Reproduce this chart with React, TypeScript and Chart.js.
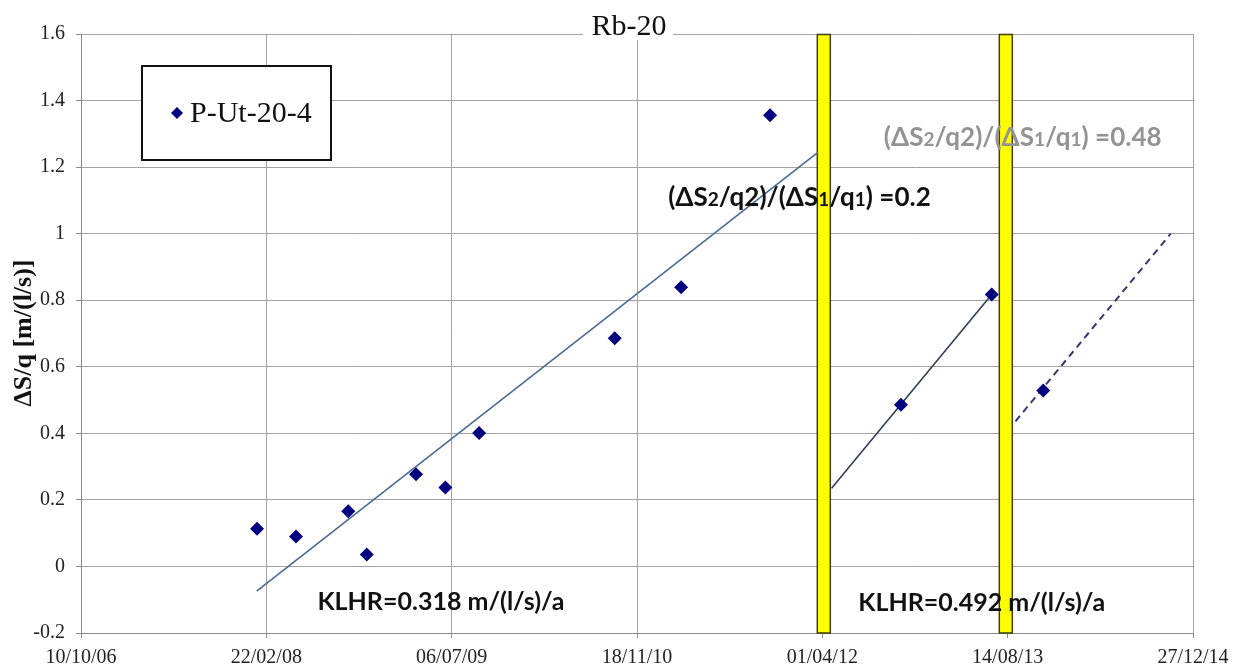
import React, { useEffect, useRef } from 'react';
import { Chart, registerables } from 'chart.js';

Chart.register(...registerables);

// Measurement dates as spreadsheet serial day numbers, and ΔS/q values [m/(l/s)]
const sampleDates = [39475, 39580, 39721, 39771, 39904, 39983, 40074, 40440, 40619, 40859, 41212, 41457, 41596];
const deltaSq = [0.113, 0.09, 0.166, 0.036, 0.277, 0.237, 0.401, 0.686, 0.839, 1.356, 0.486, 0.817, 0.529];

// Trend lines (start / end)
const trendEarlyDates = [39474, 40988];
const trendEarlyValues = [-0.074, 1.244];
const trendMidDates = [41025, 41457];
const trendMidValues = [0.235, 0.817];
const trendLateDates = [41521, 41940];
const trendLateValues = [0.436, 1.0];

// Dates of the two interventions (yellow markers)
const interventionDates = [41004, 41495];

// Axes
const xTickStart = 39000;
const xTickEnd = 42000;
const xTickStep = 500;
const yMin = -0.2;
const yMax = 1.6;
const yStep = 0.2;

const chartTitle = 'Rb-20';
const seriesName = 'P-Ut-20-4';
const yAxisTitle = 'ΔS/q [m/(l/s)]';
const klhrLabels = ['KLHR=0.318 m/(l/s)/a', 'KLHR=0.492 m/(l/s)/a'];
const klhrAnchors = [
  { x: 39971, y: -0.106 },
  { x: 41430, y: -0.111 },
];
const ratioValues = ['0.2', '0.48'];
const ratioAnchors = [
  { x: 40584, y: 1.11 },
  { x: 41166, y: 1.29 },
];
const ratioColors = ['#111111', '#939393'];

const SERIF = '"Liberation Serif", "Times New Roman", serif';
const SANS = 'Lato, "Noto Sans", "DejaVu Sans", sans-serif';
const excelEpoch = Date.UTC(1899, 11, 30);

function formatSerial(serial: number): string {
  const d = new Date(excelEpoch + serial * 86400000);
  const dd = String(d.getUTCDate()).padStart(2, '0');
  const mm = String(d.getUTCMonth() + 1).padStart(2, '0');
  const yy = String(d.getUTCFullYear() % 100).padStart(2, '0');
  return `${dd}/${mm}/${yy}`;
}

function toPoints(xs: number[], ys: number[]) {
  return xs.map((x, i) => ({ x, y: ys[i] }));
}

// Ratio text with the small index digits
function ratioSegments(value: string): [string, boolean][] {
  return [
    ['(ΔS', false],
    ['2', true],
    ['/q2)/(ΔS', false],
    ['1', true],
    ['/q', false],
    ['1', true],
    [') =', false],
    [value, false],
  ];
}

const overlayPlugin = {
  id: 'overlay',
  beforeDatasetsDraw(chart: any) {
    const { ctx, chartArea, scales } = chart;
    const xs = scales.x;
    ctx.save();
    interventionDates.forEach((d) => {
      const px = xs.getPixelForValue(d);
      const w = 13;
      ctx.fillStyle = '#ffff00';
      ctx.fillRect(px - w / 2, chartArea.top + 0.5, w, chartArea.bottom - chartArea.top - 0.5);
      ctx.strokeStyle = '#3c3c10';
      ctx.lineWidth = 1.5;
      ctx.strokeRect(px - w / 2, chartArea.top + 0.5, w, chartArea.bottom - chartArea.top - 0.5);
    });
    ctx.restore();
  },
  afterDraw(chart: any) {
    const { ctx, scales } = chart;
    const xs = scales.x;
    const ys = scales.y;
    ctx.save();

    // Title with white backing over the top border
    ctx.fillStyle = '#ffffff';
    ctx.fillRect(583, 14, 90, 26);
    ctx.fillStyle = '#111111';
    ctx.font = `30px ${SERIF}`;
    ctx.textAlign = 'center';
    ctx.textBaseline = 'middle';
    ctx.fillText(chartTitle, 629, 27);

    // Y axis title
    ctx.save();
    ctx.translate(24, 333);
    ctx.rotate(-Math.PI / 2);
    ctx.font = `bold 26px ${SERIF}`;
    ctx.fillStyle = '#111111';
    ctx.textAlign = 'center';
    ctx.textBaseline = 'middle';
    ctx.fillText(yAxisTitle, 0, 0);
    ctx.restore();

    // Legend box
    ctx.fillStyle = '#ffffff';
    ctx.fillRect(142, 66, 189, 94);
    ctx.strokeStyle = '#111111';
    ctx.lineWidth = 2;
    ctx.strokeRect(142, 66, 189, 94);
    ctx.fillStyle = '#000080';
    ctx.beginPath();
    ctx.moveTo(177, 107);
    ctx.lineTo(183, 113);
    ctx.lineTo(177, 119);
    ctx.lineTo(171, 113);
    ctx.closePath();
    ctx.fill();
    ctx.fillStyle = '#111111';
    ctx.font = `30px ${SERIF}`;
    ctx.textAlign = 'left';
    ctx.textBaseline = 'middle';
    ctx.fillText(seriesName, 190, 114);

    // KLHR labels
    ctx.font = `bold 25px ${SANS}`;
    ctx.fillStyle = '#111111';
    ctx.textAlign = 'center';
    ctx.textBaseline = 'middle';
    klhrLabels.forEach((t, i) => {
      ctx.fillText(t, xs.getPixelForValue(klhrAnchors[i].x), ys.getPixelForValue(klhrAnchors[i].y));
    });

    // Ratio labels
    ctx.textAlign = 'left';
    ctx.textBaseline = 'alphabetic';
    ratioValues.forEach((v, i) => {
      let x = xs.getPixelForValue(ratioAnchors[i].x);
      const y = ys.getPixelForValue(ratioAnchors[i].y) + 9;
      ctx.fillStyle = ratioColors[i];
      ratioSegments(v).forEach(([t, small]) => {
        ctx.font = small ? `bold 19px ${SANS}` : `bold 26px ${SANS}`;
        ctx.fillText(t, x, y);
        x += ctx.measureText(t).width;
      });
    });

    ctx.restore();
  },
};

export default function App() {
  const canvasRef = useRef<HTMLCanvasElement | null>(null);

  useEffect(() => {
    document.body.style.margin = '0';
    const canvas = canvasRef.current;
    if (!canvas) return;
    const chart = new Chart(canvas, {
      type: 'scatter',
      data: {
        datasets: [
          {
            label: seriesName,
            data: toPoints(sampleDates, deltaSq),
            pointStyle: 'rectRot',
            pointRadius: 7,
            pointBackgroundColor: '#000080',
            pointBorderColor: '#000080',
            pointBorderWidth: 0,
            showLine: false,
            order: 0,
          },
          {
            label: 'trend 1',
            data: toPoints(trendEarlyDates, trendEarlyValues),
            showLine: true,
            borderColor: '#4a6a93',
            borderWidth: 1.6,
            pointRadius: 0,
            order: 1,
          },
          {
            label: 'trend 2',
            data: toPoints(trendMidDates, trendMidValues),
            showLine: true,
            borderColor: '#2e3e58',
            borderWidth: 1.6,
            pointRadius: 0,
            order: 1,
          },
          {
            label: 'trend 3',
            data: toPoints(trendLateDates, trendLateValues),
            showLine: true,
            borderColor: '#35386e',
            borderWidth: 2,
            borderDash: [7, 5],
            pointRadius: 0,
            order: 1,
          },
        ],
      },
      options: {
        responsive: false,
        animation: false,
        layout: { padding: { top: 34, right: 40, left: 0, bottom: 0 } },
        plugins: {
          legend: { display: false },
          tooltip: { enabled: false },
          title: { display: false },
        },
        scales: {
          x: {
            type: 'linear',
            min: xTickStart,
            max: xTickEnd,
            afterFit: (scale: any) => {
              scale.height = 34;
              scale.paddingLeft = 0;
              scale.paddingRight = 0;
            },
            ticks: {
              stepSize: xTickStep,
              autoSkip: false,
              maxRotation: 0,
              padding: 8,
              color: '#222222',
              font: { family: SERIF, size: 20 },
              callback: (v: any) => formatSerial(Number(v)),
            },
            grid: { color: '#a3a3a3', tickLength: 5, tickColor: '#8a8a8a', lineWidth: 1 },
            border: { color: '#8a8a8a' },
          },
          y: {
            min: yMin,
            max: yMax,
            afterFit: (scale: any) => {
              scale.width = 81;
              scale.paddingTop = 0;
              scale.paddingBottom = 0;
            },
            ticks: {
              stepSize: yStep,
              padding: 11,
              color: '#222222',
              font: { family: SERIF, size: 20 },
              callback: (v: any) => String(Number(Number(v).toFixed(1))),
            },
            grid: { color: '#a3a3a3', tickLength: 5, tickColor: '#8a8a8a', lineWidth: 1 },
            border: { color: '#8a8a8a' },
          },
        },
      },
      plugins: [overlayPlugin],
    });
    return () => chart.destroy();
  }, []);

  return (
    <div style={{ width: 1233, height: 667, background: '#ffffff' }}>
      <canvas ref={canvasRef} width={1233} height={667} style={{ display: 'block' }} />
    </div>
  );
}
